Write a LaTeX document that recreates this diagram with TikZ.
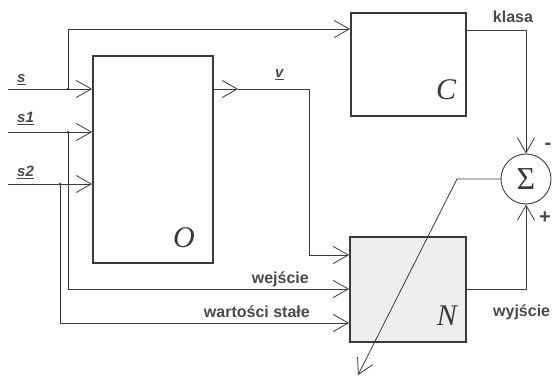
\documentclass[tikz,border=0pt]{standalone}
\usepackage{fontspec}
\setmainfont{Liberation Serif}
\newfontfamily\labfont{Liberation Sans}
\usetikzlibrary{arrows.meta}
\definecolor{ink}{HTML}{3A3A3A}
\definecolor{txt}{HTML}{4A4A4A}
\definecolor{fillN}{HTML}{EEEEEE}
\begin{document}
\begin{tikzpicture}[x=1pt,y=-1pt,
  block/.style={draw=ink,line width=1.8pt,inner sep=0pt,rectangle},
  wire/.style={draw=ink,line width=0.8pt},
  arr/.style={wire,-{Straight Barb[length=15pt,width=17pt,line width=0.8pt]}},
  dot/.style={circle,fill=ink,inner sep=0pt,minimum size=2.6pt},
  lab/.style={text=txt,font=\labfont\bfseries\fontsize{16}{16}\selectfont,inner sep=0pt},
  sig/.style={text=txt,font=\labfont\bfseries\itshape\fontsize{15}{15}\selectfont,inner sep=0pt},
  big/.style={text=ink,font=\itshape\fontsize{30}{30}\selectfont,inner sep=0pt}]
\useasboundingbox (0,0) rectangle (557,377);
% blocks
\node[block,minimum width=120pt,minimum height=207pt] (O) at (153,159.5) {};
\node[block,minimum width=115pt,minimum height=103pt] (C) at (408.5,64.5) {};
\node[block,fill=fillN,minimum width=116pt,minimum height=105pt] (N) at (408,289.5) {};
\node[circle,draw=ink,line width=0.9pt,minimum size=50pt,inner sep=0pt,text=ink,font=\fontsize{32}{32}\selectfont] (S) at (526,179) {Σ};
% block letters
\node[big,anchor=base] (Ol) at (184,247) {O};
\node[big,anchor=base] (Cl) at (446,100) {C};
\node[big,anchor=base] (Nl) at (447,325) {N};
% helper coordinates
\coordinate (sIn) at (8,89);
\coordinate (s1In) at (8,132);
\coordinate (s2In) at (8,184);
\coordinate (j0) at (68,89);
\coordinate (j1) at (68,132);
\coordinate (j2) at (60,184);
\coordinate (yC) at (0,29);
\coordinate (yK) at (0,30);
\coordinate (yV) at (0,255);
\coordinate (yW) at (0,289);
\coordinate (yWS) at (0,323);
\coordinate (vmid) at (238,89);
\coordinate (vturn) at (309,89);
\coordinate (dk) at (457,179);
\coordinate (dtip) at (358,375);
% inputs
\draw[arr] (sIn) -- (O.west |- sIn);
\draw[arr] (s1In) -- (O.west |- s1In);
\draw[arr] (s2In) -- (O.west |- s2In);
\draw[arr] (j0) |- (C.west |- yC);
\draw[arr] (j1) |- (N.west |- yW);
\draw[arr] (j2) |- (N.west |- yWS);
\node[dot] at (j0) {};
\node[dot] at (j1) {};
\node[dot] at (j2) {};
% v
\draw[arr] (O.east |- sIn) -- (vmid);
\draw[arr] (vmid) -- (vturn) |- (N.west |- yV);
% klasa and wyjscie
\draw[arr] (C.east |- yK) -| (S.north);
\draw[arr] (N.east |- yW) -| (S.south);
% error signal
\draw[arr] (S.west) -- (dk) -- (dtip);
% labels
\node[sig,anchor=base west] (ls) at (17,83) {\underline{s}};
\node[sig,anchor=base west] (ls1) at (17,123) {\underline{s1}};
\node[sig,anchor=base west] (ls2) at (17,177) {\underline{s2}};
\node[sig,anchor=base west] (lv) at (275,78) {\underline{v}};
\node[lab,anchor=base] (lk) at (513,23) {klasa};
\node[lab,anchor=base east] (lw) at (309,283) {wejście};
\node[lab,anchor=base east] (lws) at (310,317) {wartości stałe};
\node[lab,anchor=base west] (ly) at (493,316) {wyjście};
\node[lab,font=\labfont\bfseries\fontsize{20}{20}\selectfont] (lm) at (548,146) {-};
\node[lab,font=\labfont\bfseries\fontsize{20}{20}\selectfont] (lp) at (545,218) {+};
\end{tikzpicture}
\end{document}
